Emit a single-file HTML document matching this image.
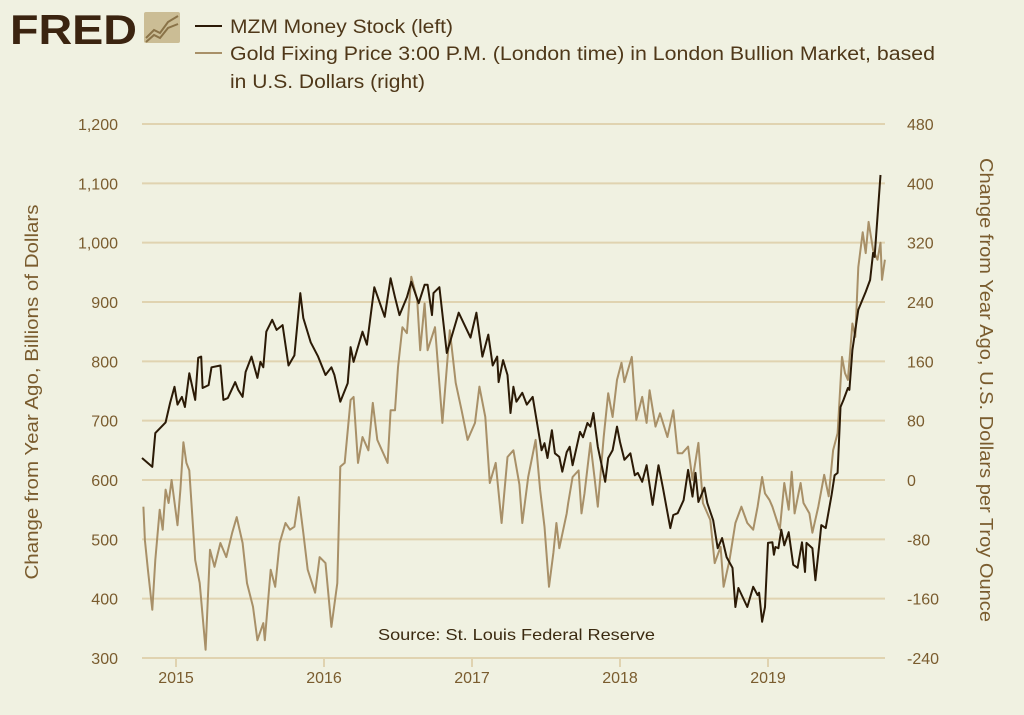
<!DOCTYPE html>
<html><head><meta charset="utf-8"><style>
body{margin:0;background:#f0f1e1;width:1024px;height:710px;overflow:hidden;font-family:"Liberation Sans",sans-serif}
</style></head><body>
<svg width="1024" height="710" xmlns="http://www.w3.org/2000/svg" id="c">
<rect width="1024" height="710" fill="#f0f1e1"/>
<g>
<text x="10" y="44" font-size="42" font-weight="bold" fill="#3b2410" textLength="127" lengthAdjust="spacingAndGlyphs">FRED</text>
<rect x="144" y="12" width="36" height="31" rx="2" fill="#cbbd95"/>
<polyline points="146,38 154,30 160,33 168,22 178,16" fill="none" stroke="#8a7348" stroke-width="2"/>
<polyline points="146,42 154,35 160,38 168,28 178,24" fill="none" stroke="#8a7348" stroke-width="2"/>
</g>
<g font-size="19" fill="#4f3819">
<line x1="195" y1="26" x2="222" y2="26" stroke="#2b1a06" stroke-width="2"/>
<text x="230" y="33" textLength="223" lengthAdjust="spacingAndGlyphs">MZM Money Stock (left)</text>
<line x1="195" y1="53" x2="222" y2="53" stroke="#a89068" stroke-width="2"/>
<text x="230" y="60" textLength="705" lengthAdjust="spacingAndGlyphs">Gold Fixing Price 3:00 P.M. (London time) in London Bullion Market, based</text>
<text x="230" y="88" textLength="195" lengthAdjust="spacingAndGlyphs">in U.S. Dollars (right)</text>
</g>
<g id="grid"></g><g id="axes"></g><g id="series"></g>
<text x="378" y="640" font-size="16" fill="#3b2a10" textLength="277" lengthAdjust="spacingAndGlyphs">Source:  St. Louis Federal Reserve</text>
<text transform="translate(38,392) rotate(-90)" font-size="18" fill="#7a5c2e" text-anchor="middle" textLength="375" lengthAdjust="spacingAndGlyphs">Change from Year Ago, Billions of Dollars</text>
<text transform="translate(980,390) rotate(90)" font-size="18" fill="#7a5c2e" text-anchor="middle" textLength="464" lengthAdjust="spacingAndGlyphs">Change from Year Ago, U.S. Dollars per Troy Ounce</text>
</svg>
<script>
const leftTicks=[300,400,500,600,700,800,900,1000,1100,1200];
const leftTickLabels=["300","400","500","600","700","800","900","1,000","1,100","1,200"];
const rightTickLabels=["-240","-160","-80","0","80","160","240","320","400","480"];
const rightTicks=[-240,-160,-80,0,80,160,240,320,400,480];
const years=[2015,2016,2017,2018,2019];
const mzmDates=[2014.77,2014.84,2014.86,2014.93,2014.96,2014.99,2015.01,2015.04,2015.06,2015.09,2015.13,2015.15,2015.17,2015.18,2015.22,2015.24,2015.30,2015.32,2015.35,2015.40,2015.42,2015.45,2015.47,2015.51,2015.55,2015.57,2015.59,2015.61,2015.65,2015.68,2015.72,2015.76,2015.80,2015.84,2015.86,2015.91,2015.96,2016.01,2016.05,2016.07,2016.11,2016.16,2016.18,2016.20,2016.26,2016.29,2016.34,2016.41,2016.45,2016.48,2016.51,2016.56,2016.59,2016.64,2016.68,2016.70,2016.73,2016.74,2016.78,2016.83,2016.91,2016.99,2017.03,2017.07,2017.11,2017.14,2017.17,2017.18,2017.21,2017.24,2017.26,2017.28,2017.30,2017.34,2017.37,2017.41,2017.47,2017.49,2017.51,2017.54,2017.56,2017.59,2017.61,2017.64,2017.66,2017.68,2017.73,2017.75,2017.78,2017.80,2017.82,2017.85,2017.90,2017.92,2017.95,2017.98,2018.00,2018.03,2018.07,2018.10,2018.12,2018.15,2018.18,2018.22,2018.26,2018.29,2018.34,2018.36,2018.39,2018.43,2018.46,2018.49,2018.51,2018.53,2018.57,2018.59,2018.63,2018.66,2018.69,2018.72,2018.76,2018.78,2018.80,2018.86,2018.90,2018.93,2018.94,2018.96,2018.98,2019.00,2019.03,2019.04,2019.05,2019.07,2019.09,2019.11,2019.14,2019.17,2019.20,2019.23,2019.25,2019.26,2019.30,2019.32,2019.35,2019.36,2019.39,2019.43,2019.45,2019.47,2019.49,2019.51,2019.54,2019.55,2019.57,2019.61,2019.66,2019.69,2019.71,2019.72,2019.76];
const mzmValues=[637,622,679,697,730,757,727,740,723,780,735,806,808,755,760,790,793,735,738,765,752,740,782,808,772,799,790,850,870,853,861,793,810,915,873,832,808,777,790,777,732,763,824,799,850,828,925,875,940,908,878,908,934,898,929,929,878,915,925,814,882,840,882,808,845,793,808,765,802,777,713,757,732,747,727,740,650,662,637,684,645,639,614,647,656,625,681,672,696,690,713,656,597,637,650,690,664,634,645,608,612,597,625,558,625,587,519,541,544,566,617,572,612,563,587,561,532,485,502,470,452,386,418,386,420,406,410,361,386,494,495,474,487,485,516,490,512,457,452,495,445,494,485,431,499,524,519,575,608,612,723,735,755,752,819,887,917,937,983,976,1114];
const goldDates=[2014.78,2014.79,2014.81,2014.84,2014.86,2014.89,2014.91,2014.93,2014.95,2014.97,2015.01,2015.03,2015.05,2015.07,2015.09,2015.13,2015.16,2015.20,2015.23,2015.26,2015.30,2015.34,2015.38,2015.41,2015.45,2015.48,2015.52,2015.55,2015.59,2015.60,2015.64,2015.67,2015.70,2015.74,2015.77,2015.80,2015.83,2015.86,2015.89,2015.94,2015.97,2016.01,2016.05,2016.09,2016.11,2016.14,2016.18,2016.20,2016.23,2016.26,2016.30,2016.33,2016.36,2016.43,2016.45,2016.48,2016.50,2016.53,2016.56,2016.59,2016.63,2016.65,2016.68,2016.70,2016.75,2016.80,2016.85,2016.89,2016.93,2016.97,2017.02,2017.05,2017.09,2017.12,2017.16,2017.20,2017.24,2017.28,2017.32,2017.34,2017.38,2017.43,2017.46,2017.49,2017.52,2017.55,2017.57,2017.59,2017.64,2017.65,2017.68,2017.72,2017.74,2017.76,2017.80,2017.83,2017.85,2017.89,2017.92,2017.95,2017.98,2018.01,2018.03,2018.08,2018.11,2018.15,2018.18,2018.20,2018.24,2018.27,2018.32,2018.36,2018.39,2018.42,2018.46,2018.49,2018.53,2018.56,2018.61,2018.64,2018.68,2018.70,2018.74,2018.78,2018.82,2018.86,2018.90,2018.93,2018.96,2018.98,2019.01,2019.03,2019.08,2019.11,2019.14,2019.16,2019.18,2019.22,2019.24,2019.28,2019.30,2019.34,2019.38,2019.41,2019.44,2019.47,2019.50,2019.52,2019.54,2019.57,2019.59,2019.61,2019.64,2019.66,2019.68,2019.71,2019.74,2019.76,2019.77,2019.79];
const goldValues=[-36,-81,-121,-175,-108,-40,-67,-13,-31,0,-61,-13,51,23,13,-108,-139,-229,-94,-117,-85,-104,-71,-50,-85,-139,-171,-216,-193,-216,-121,-144,-85,-58,-67,-63,-23,-71,-121,-152,-104,-112,-198,-139,18,23,108,112,23,58,40,104,54,23,94,94,152,206,198,274,243,175,238,175,206,77,202,131,94,54,77,126,85,-4,23,-58,31,40,-6,-58,4,54,-13,-63,-144,-98,-58,-92,-45,-31,4,13,-45,-18,50,0,-36,58,117,85,135,158,132,166,81,112,77,121,72,90,58,94,36,36,45,0,50,-31,-54,-112,-90,-144,-108,-58,-36,-58,-67,-36,4,-18,-27,-36,-67,-4,-40,11,-45,-4,-31,-45,-71,-36,7,-22,40,63,166,144,135,211,193,287,334,306,348,310,297,320,270,297];

const NS='http://www.w3.org/2000/svg';
const X0=142,X1=885;
function xS(t){return 176+(t-2015)*148;}
function yL(v){return 124+(1200-v)*534/900;}
function yR(v){return 124+(480-v)*534/720;}
function mk(tag,attrs,parent){const e=document.createElementNS(NS,tag);for(const k in attrs)e.setAttribute(k,attrs[k]);parent.appendChild(e);return e;}
const grid=document.getElementById('grid'),axes=document.getElementById('axes'),ser=document.getElementById('series');
leftTicks.forEach((v,i)=>{
  const y=yL(v);
  const l=mk('line',{x1:X0,x2:X1,y1:y,y2:y,stroke:'#e0d3b0','stroke-width':2},grid);
  
  
  const t=mk('text',{x:118,y:y+6,'font-size':16,fill:'#7a5c2e','text-anchor':'end'},axes);
  t.textContent=leftTickLabels[i];
  
  
});
rightTicks.forEach((v,i)=>{
  const t=mk('text',{x:907,y:yR(v)+6,'font-size':16,fill:'#7a5c2e'},axes);
  t.textContent=rightTickLabels[i];
  
  
});
years.forEach(yr=>{
  const x=xS(yr);
  const tk=mk('line',{x1:x,x2:x,y1:658,y2:667,stroke:'#e0d3b0','stroke-width':2},axes);
  
  
  const t=mk('text',{x:x,y:683,'font-size':16,fill:'#7a5c2e','text-anchor':'middle'},axes);
  t.textContent=String(yr);
  
  
});
const gp=mk('polyline',{points:goldDates.map((d,i)=>xS(d).toFixed(1)+','+yR(goldValues[i]).toFixed(1)).join(' '),fill:'none',stroke:'#a89068','stroke-width':2,'stroke-linejoin':'round'},ser);


const mp=mk('polyline',{points:mzmDates.map((d,i)=>xS(d).toFixed(1)+','+yL(mzmValues[i]).toFixed(1)).join(' '),fill:'none',stroke:'#2b1a06','stroke-width':2,'stroke-linejoin':'round'},ser);


</script>
</body></html>
